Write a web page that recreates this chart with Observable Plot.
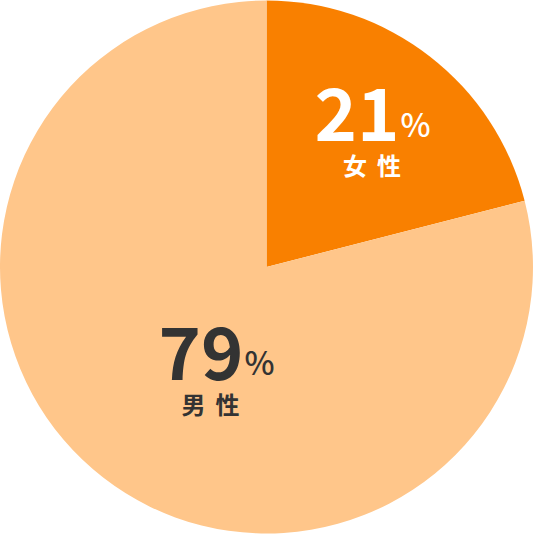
<!DOCTYPE html>
<html><head><meta charset="utf-8">
<script src="https://cdn.jsdelivr.net/npm/d3@7"></script>
<script src="https://cdn.jsdelivr.net/npm/@observablehq/plot@0.6"></script>
<style>
html,body{margin:0;padding:0;background:#fff}
</style></head><body><div id="chart"></div>
<script>
// ---- data ----
const categories = ["女性", "男性"];
const nameLabels = ["女性", "男性"];
const values = [21, 79];
const sliceColors = ["#F98000", "#FFC68A"];
const textColors = ["#FFFFFF", "#333333"];

// ---- layout (label anchors in unit-circle coordinates, y down) ----
const numberAnchors = [[0.497, -0.503], [-0.088, 0.392]];
const nameAnchors = [[0.394, -0.503], [-0.212, 0.392]];

const W = 533, H = 534;
const cx = 266.5, cy = 267, R = 266.5;

const data = categories.map((c, i) => ({
  category: c, name: nameLabels[i], value: values[i],
  fill: sliceColors[i], ink: textColors[i],
  ax: numberAnchors[i][0], ay: numberAnchors[i][1],
  nx: nameAnchors[i][0], ny: nameAnchors[i][1]
}));

const pie = d3.pie().sort(null).value(d => d.value);

function pieMark(index, scales, values, dimensions, context) {
  const x0 = scales.x(0), y0 = scales.y(0);
  const r = scales.x(1) - scales.x(0);
  const arc = d3.arc().innerRadius(0).outerRadius(r);
  const g = d3.create("svg:g").attr("transform", `translate(${x0},${y0})`);
  g.selectAll("path").data(pie(data)).join("path")
    .attr("d", arc)
    .attr("fill", d => d.data.fill);
  return g.node();
}

const font = '"Noto Sans CJK JP", "Noto Sans", sans-serif';

const chart = Plot.plot({
  width: W, height: H,
  margin: 0,
  x: {domain: [-1, 1], range: [cx - R, cx + R], axis: null},
  y: {domain: [-1, 1], range: [cy - R, cy + R], axis: null},
  color: {type: "identity"},
  style: {background: "transparent", overflow: "visible"},
  marks: [
    pieMark,
    Plot.text(data, {
      x: "ax", y: "ay", text: d => String(d.value),
      fill: "ink", fontSize: 72, fontWeight: 700, fontFamily: font,
      textAnchor: "end", lineAnchor: "middle", dx: 0, dy: -15
    }),
    Plot.text(data, {
      x: "ax", y: "ay", text: () => "%",
      fill: "ink", fontSize: 32, fontWeight: 500, fontFamily: font,
      textAnchor: "start", lineAnchor: "middle", dx: 1, dy: -7
    }),
    Plot.text(data, {
      x: "nx", y: "ny", text: "name",
      fill: "ink", fontSize: 24, fontWeight: 700, fontFamily: font,
      textAnchor: "middle", lineAnchor: "middle", dx: 5, dy: 34
    })
  ]
});
d3.select(chart).selectAll("text")
  .filter(function() { return nameLabels.includes(this.textContent); })
  .attr("letter-spacing", 10);
document.getElementById("chart").appendChild(chart);
</script>
</body></html>
